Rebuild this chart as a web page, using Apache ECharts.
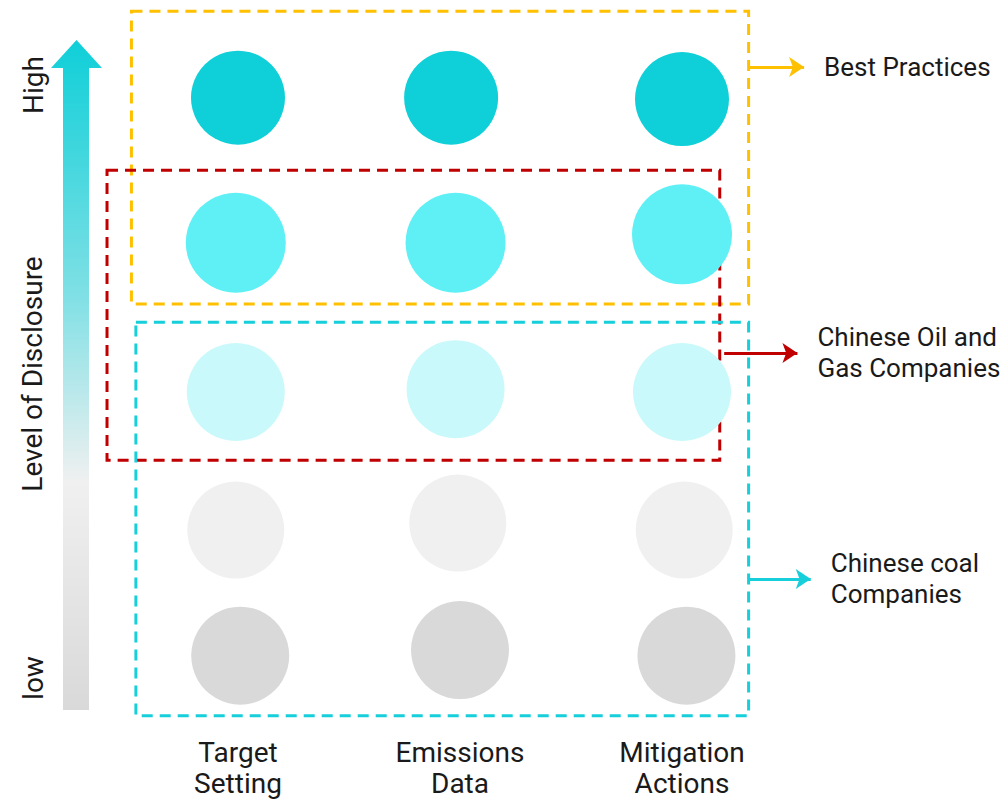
<!DOCTYPE html>
<html>
<head>
<meta charset="utf-8">
<script src="https://cdn.jsdelivr.net/npm/echarts@6/dist/echarts.min.js"></script>
<style>
  html, body { margin: 0; padding: 0; background: #fff; }
  #chart { width: 1004px; height: 801px; }
</style>
</head>
<body>
<div id="chart"></div>
<script>
// Categories along the bottom
const columns = ['Target\nSetting', 'Emissions\nData', 'Mitigation\nActions'];

// Circle positions [column, disclosure level] (top row = high)
const rowHigh   = [[1.00, 5.00], [1.96, 5.00], [3.00, 4.99]];
const rowUpper  = [[0.99, 3.96], [1.98, 3.96], [3.00, 4.02]];
const rowMiddle = [[0.99, 2.89], [1.98, 2.91], [3.00, 2.89]];
const rowLower  = [[0.99, 1.90], [1.99, 1.95], [3.01, 1.90]];
const rowLow    = [[1.01, 1.00], [2.00, 1.04], [3.02, 1.00]];

// Groups of companies: [x1, yTop, x2, yBottom] in chart units
const groupNames = ['Best Practices', 'Chinese Oil and\nGas Companies', 'Chinese coal\nCompanies'];
const groupBoxes = [
    [0.52, 5.62, 3.30, 3.52],
    [0.41, 4.48, 3.17, 2.40],
    [0.54, 3.39, 3.30, 0.57]
];
// Pointer arrows for each group: [xStart, xEnd, y]
const groupArrows = [
    [3.30, 3.55, 5.22],
    [3.19, 3.52, 3.17],
    [3.30, 3.58, 1.55]
];

const groupColors = ['#ffc000', '#c00000', '#17cfdb'];
const rowColors = ['#0fcfd8', '#5ef0f5', '#c9f9fa', '#f0f0f0', '#d9d9d9'];

const chart = echarts.init(document.getElementById('chart'), null, { renderer: 'svg' });

const fontFamily = 'Roboto, "Noto Sans", sans-serif';

// one scatter series for each row of circles
const rows = [rowHigh, rowUpper, rowMiddle, rowLower, rowLow];
const rowSizes = [94, 100, 98, 97, 98];
const circleSeries = rows.map((row, i) => ({
    type: 'scatter',
    data: row,
    symbol: 'circle',
    symbolSize: rowSizes[i],
    itemStyle: { color: rowColors[i], opacity: 1 },
    emphasis: { disabled: true },
    clip: false,
    z: 2
}));

// dashed boxes and arrows on top of the circles
const groupSeries = groupBoxes.map((box, i) => ({
    type: 'scatter',
    data: [],
    clip: false,
    z: 10,
    silent: true,
    markArea: {
        silent: true,
        itemStyle: {
            color: 'rgba(0,0,0,0)',
            borderColor: groupColors[i],
            borderWidth: 3,
            borderType: [11, 7]
        },
        label: { show: false },
        data: [[{ coord: [box[0], box[1]] }, { coord: [box[2], box[3]] }]]
    },
    markLine: {
        silent: true,
        symbol: ['none', 'arrow'],
        symbolSize: [15, 15],
        lineStyle: { color: groupColors[i], width: 3, type: 'solid' },
        label: {
            show: true,
            position: 'end',
            distance: 20,
            formatter: groupNames[i],
            color: '#1a1a1a',
            fontSize: 26,
            lineHeight: 31,
            fontFamily: fontFamily
        },
        data: [[
            { coord: [groupArrows[i][0], groupArrows[i][2]] },
            { coord: [groupArrows[i][1], groupArrows[i][2]] }
        ]]
    }
}));

chart.setOption({
    animation: false,
    grid: { left: 16, right: 100, top: 0, bottom: 75.6, containLabel: false },
    xAxis: {
        type: 'value',
        min: 0,
        max: 4,
        interval: 1,
        axisLine: { show: false },
        axisTick: { show: false },
        splitLine: { show: false },
        axisLabel: {
            margin: 12,
            fontSize: 28,
            lineHeight: 31,
            color: '#1a1a1a',
            fontFamily: fontFamily,
            formatter: v => columns[v - 1] || ''
        }
    },
    yAxis: {
        type: 'value',
        min: 0.5,
        max: 5.7,
        show: false
    },
    graphic: [
        {
            // gradient arrow on the left
            type: 'polygon',
            shape: {
                points: [[63, 710], [63, 68], [51, 68], [76.5, 40], [102, 68], [89, 68], [89, 710]]
            },
            style: {
                fill: new echarts.graphic.LinearGradient(0, 0, 0, 1, [
                    { offset: 0, color: '#0fcfd8' },
                    { offset: 0.38, color: '#7fe0e5' },
                    { offset: 0.66, color: '#f0f0f0' },
                    { offset: 1, color: '#d9d9d9' }
                ])
            }
        },
        {
            type: 'text', x: 33, y: 85, rotation: Math.PI / 2,
            style: { text: 'High', fontSize: 28, fill: '#1a1a1a', fontFamily: fontFamily, align: 'center', verticalAlign: 'middle' }
        },
        {
            type: 'text', x: 32, y: 374, rotation: Math.PI / 2,
            style: { text: 'Level of Disclosure', fontSize: 28, fill: '#1a1a1a', fontFamily: fontFamily, align: 'center', verticalAlign: 'middle' }
        },
        {
            type: 'text', x: 33, y: 678, rotation: Math.PI / 2,
            style: { text: 'low', fontSize: 28, fill: '#1a1a1a', fontFamily: fontFamily, align: 'center', verticalAlign: 'middle' }
        }
    ],
    series: circleSeries.concat(groupSeries)
});
</script>
</body>
</html>
